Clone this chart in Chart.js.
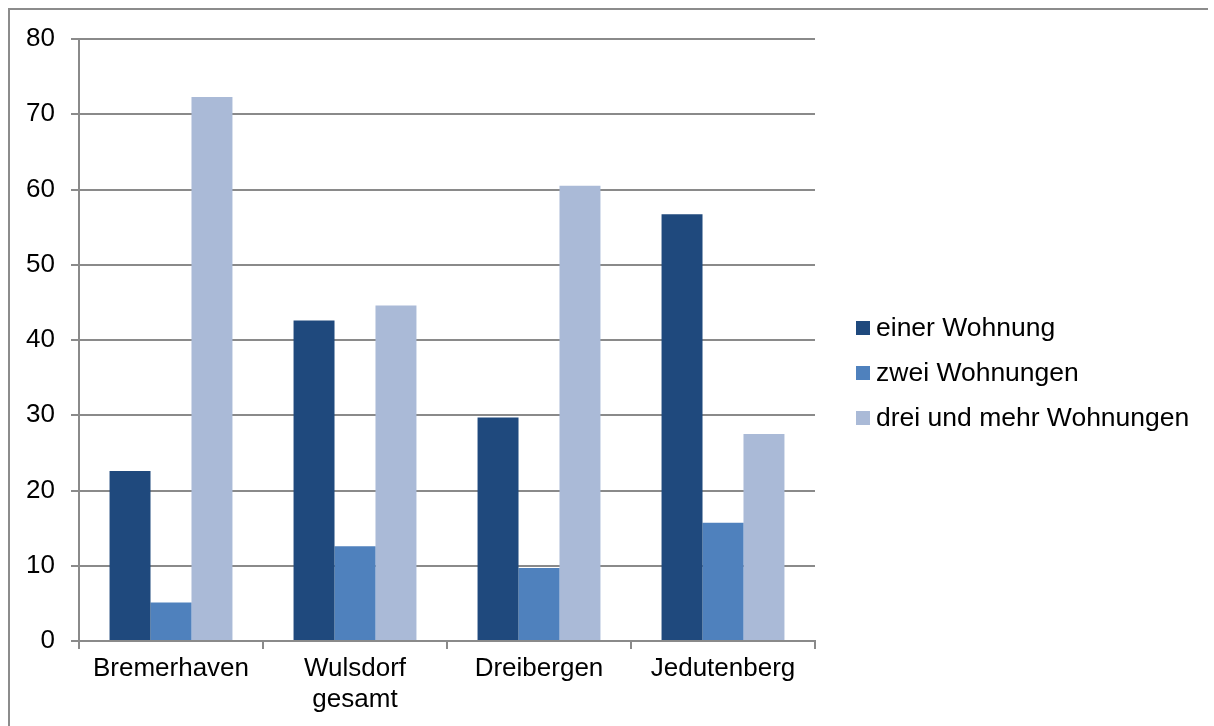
<!DOCTYPE html>
<html>
<head>
<meta charset="utf-8">
<title>Wohngebäude nach Anzahl der Wohnungen</title>
<script src="https://cdn.jsdelivr.net/npm/chart.js@4/dist/chart.umd.min.js"></script>
<style>
  html, body { margin: 0; padding: 0; background: #fff; }
  #wrap { position: relative; width: 1214px; height: 726px; overflow: hidden; }
  #frame { position: absolute; left: 8px; top: 8px; width: 1198px; height: 900px;
           border-left: 2px solid #8c8c8c; border-top: 2px solid #8c8c8c; }
  #chart { position: absolute; left: 0; top: 0; }
  #legend { position: absolute; left: 856px; top: 305px;
            font: 26.5px "Liberation Sans", Arial, sans-serif; color: #000; }
  #legend .item { display: flex; align-items: center; height: 45px; white-space: nowrap; }
  #legend .sw { width: 14px; height: 14px; margin-right: 6px; flex: none; }
</style>
</head>
<body>
<div id="wrap">
  <div id="frame"></div>
  <canvas id="chart" width="1214" height="726"></canvas>
  <div id="legend"></div>
</div>
<script>
// Ortsteile
const categories = ['Bremerhaven', ['Wulsdorf', 'gesamt'], 'Dreibergen', 'Jedutenberg'];

// Anteil der Wohngebäude (%) nach Zahl der Wohnungen
const seriesNames = ['einer Wohnung', 'zwei Wohnungen', 'drei und mehr Wohnungen'];
const einerWohnung = [22.6, 42.6, 29.7, 56.7];
const zweiWohnungen = [5.1, 12.6, 9.7, 15.7];
const dreiUndMehr = [72.3, 44.6, 60.5, 27.5];

// Achse
const yMin = 0;
const yMax = 80;
const yStep = 10;

const colors = ['#1f497d', '#4f81bd', '#aabad7'];
const gridGray = '#8a8a8a';
const fontFamily = '"Liberation Sans", Arial, sans-serif';

Chart.defaults.font.family = fontFamily;

const values = [einerWohnung, zweiWohnungen, dreiUndMehr];
const datasets = seriesNames.map((name, i) => ({
  label: name,
  data: values[i],
  backgroundColor: colors[i],
  borderWidth: 0,
  categoryPercentage: 0.668,
  barPercentage: 1.0
}));

const chart = new Chart(document.getElementById('chart'), {
  type: 'bar',
  data: { labels: categories, datasets },
  options: {
    responsive: false,
    animation: false,
    devicePixelRatio: 1,
    layout: { padding: { left: 0, right: 399, top: 39, bottom: 0 } },
    plugins: {
      legend: { display: false },
      tooltip: { enabled: false }
    },
    scales: {
      x: {
        offset: true,
        grid: {
          offset: true,
          drawOnChartArea: false,
          drawTicks: true,
          tickLength: 8,
          color: gridGray,
          lineWidth: 2
        },
        border: { display: true, color: gridGray, width: 2 },
        ticks: {
          color: '#000',
          font: { size: 26, family: fontFamily },
          padding: 4,
          maxRotation: 0,
          autoSkip: false
        },
        afterFit(scale) { scale.height = 85; }
      },
      y: {
        min: yMin,
        max: yMax,
        grid: {
          color: gridGray,
          lineWidth: 2,
          tickLength: 8,
          drawTicks: true
        },
        border: { display: true, color: gridGray, width: 2 },
        ticks: {
          stepSize: yStep,
          color: '#000',
          font: { size: 26, family: fontFamily },
          padding: 16
        },
        afterFit(scale) { scale.width = 79; }
      }
    }
  }
});

// Legende aus den Datensätzen aufbauen
const legend = document.getElementById('legend');
chart.data.datasets.forEach(ds => {
  const item = document.createElement('div');
  item.className = 'item';
  const sw = document.createElement('span');
  sw.className = 'sw';
  sw.style.background = ds.backgroundColor;
  const txt = document.createElement('span');
  txt.textContent = ds.label;
  item.appendChild(sw);
  item.appendChild(txt);
  legend.appendChild(item);
});
</script>
</body>
</html>
